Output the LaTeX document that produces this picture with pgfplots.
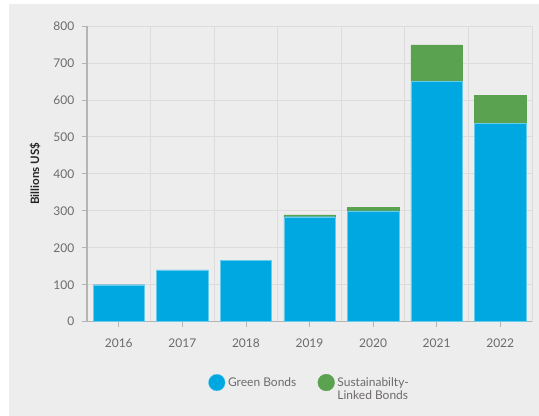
\documentclass[border=0pt]{standalone}
\usepackage{pgfplots}
\pgfplotsset{compat=1.18}
\usepackage{fontspec}
\setmainfont{Lato}
\definecolor{bg}{HTML}{EDEDED}
\definecolor{gbl}{HTML}{00A8E1}
\definecolor{slg}{HTML}{5AA150}
\definecolor{gridc}{HTML}{DCDCDC}
\definecolor{axc}{HTML}{B4B4B4}
\definecolor{tickc}{HTML}{6E6A6A}
\begin{document}
\begin{tikzpicture}[x=0.75pt,y=0.75pt]
\fill[white] (0,0) rectangle (539,416);
\fill[bg] (9,0) rectangle (539,412);
\begin{axis}[
  at={(65.25pt,70.725pt)}, anchor=south west,
  scale only axis, width=333.75pt, height=221.775pt,
  ybar stacked, bar width=0.81,
  xmin=-0.5, xmax=6.5, ymin=0, ymax=800,
  xtick={0,...,6},
  xticklabels={2016,2017,2018,2019,2020,2021,2022},
  minor xtick={-0.5,0.5,...,6.5},
  ytick={0,100,...,800},
  xmajorgrids=false, ymajorgrids=true, xminorgrids=true,
  grid style={gridc, line width=0.6pt},
  minor grid style={gridc, line width=0.6pt},
  axis x line*=bottom, axis y line*=left,
  x axis line style={axc, line width=1pt, -},
  y axis line style={axc, line width=0.8pt, -},
  tick align=outside, major tick length=4pt, minor tick length=0pt,
  every tick/.style={axc, line width=0.6pt},
  /pgf/number format/assume math mode=true,
  ticklabel style={font=\fontsize{9}{11}\selectfont, text=tickc},
  yticklabel style={xshift=-2pt},
  xticklabel style={yshift=-5pt},
  ylabel={Billions US\$},
  ylabel style={font=\fontsize{8.7}{10}\selectfont\bfseries, text=black!85, at={(axis description cs:-0.117,0.5)}, anchor=center},
  legend columns=2,
  legend style={at={(axis description cs:0.263,-0.167)}, anchor=north west, draw=none, fill=none,
    font=\fontsize{9}{10.5}\selectfont, text=tickc, nodes={anchor=base west},
    /tikz/every even column/.append style={column sep=14pt}},
  legend image code/.code={\fill[#1] (0.25em,0.3em) circle (6.25pt);},
]
\addplot[fill=gbl, draw=gbl!60!white, line width=0.3pt] coordinates {(0,100) (1,140) (2,166) (3,284) (4,300) (5,650) (6,537)};
\addlegendentry{Green Bonds}
\addplot[fill=slg, draw=slg, line width=0.3pt] coordinates {(0,0) (1,0) (2,0) (3,5) (4,10) (5,99) (6,75)};
\addlegendentry{\begin{tabular}[t]{@{}l@{}}Sustainabilty-\\[-1pt]Linked Bonds\end{tabular}}
\end{axis}
\pgfresetboundingbox
\useasboundingbox (0,0) rectangle (539,416);
\end{tikzpicture}
\end{document}
